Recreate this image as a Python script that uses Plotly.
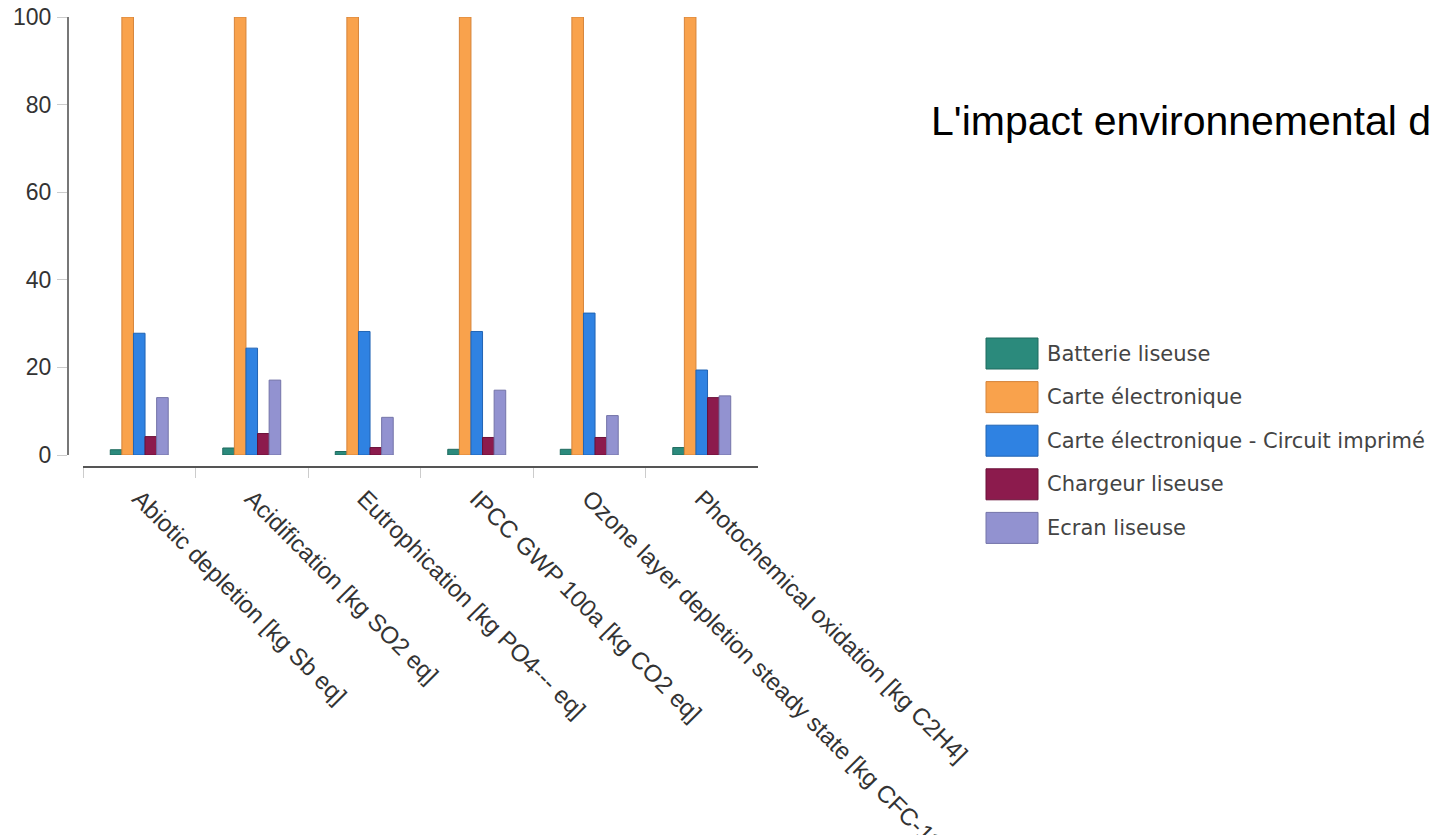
import plotly.graph_objects as go

# Impact categories (x axis) and the five components compared
categories = [
    "Abiotic depletion [kg Sb eq]",
    "Acidification [kg SO2 eq]",
    "Eutrophication [kg PO4--- eq]",
    "IPCC GWP 100a [kg CO2 eq]",
    "Ozone layer depletion steady state [kg CFC-11 eq]",
    "Photochemical oxidation [kg C2H4]",
]
series_names = [
    "Batterie liseuse",
    "Carte électronique",
    "Carte électronique - Circuit imprimé",
    "Chargeur liseuse",
    "Ecran liseuse",
]
batterie = [1.2, 1.6, 0.8, 1.3, 1.3, 1.7]
carte = [100, 100, 100, 100, 100, 100]
circuit = [27.8, 24.4, 28.2, 28.2, 32.4, 19.4]
chargeur = [4.2, 4.9, 1.7, 4.0, 4.0, 13.1]
ecran = [13.1, 17.1, 8.6, 14.8, 9.0, 13.5]
y_ticks = [0, 20, 40, 60, 80, 100]
title_text = "L'impact environnemental d"

series_values = [batterie, carte, circuit, chargeur, ecran]
fills = ["#2b8a7c", "#f9a24c", "#2f82e2", "#8c1b4d", "#9292d0"]
edges = ["#1f6a5e", "#d6843a", "#2064b4", "#6a1038", "#7474a8"]

W, H = 1433, 835


def px_x(p):
    return p / W


def px_y(p):
    return 1 - p / H


fig = go.Figure()
for name, vals, fc, ec in zip(series_names, series_values, fills, edges):
    fig.add_trace(go.Bar(
        x=categories, y=vals, name=name,
        marker=dict(color=fc, line=dict(color=ec, width=1)),
        showlegend=False,
    ))

# Legend drawn as swatches + labels on the right
legend_top = 338
legend_step = 43.6
sw_w, sw_h = 52, 31
for i, (name, fc, ec) in enumerate(zip(series_names, fills, edges)):
    top = legend_top + i * legend_step
    fig.add_shape(type="rect", xref="paper", yref="paper",
                  x0=px_x(986), x1=px_x(986 + sw_w),
                  y0=px_y(top + sw_h), y1=px_y(top),
                  fillcolor=fc, line=dict(color=ec, width=1))
    fig.add_annotation(xref="paper", yref="paper",
                       x=px_x(1045), y=px_y(top + sw_h / 2),
                       xanchor="left", yanchor="middle", showarrow=False,
                       text=name,
                       font=dict(family="DejaVu Sans", size=21, color="#444444"))

fig.add_annotation(xref="paper", yref="paper",
                   x=px_x(929), y=px_y(121), xanchor="left", yanchor="middle",
                   showarrow=False, text=title_text,
                   font=dict(family="Liberation Sans, Arial", size=41, color="#000000"))

fig.update_layout(
    width=W, height=H,
    margin=dict(l=0, r=0, t=0, b=0, pad=0, autoexpand=False),
    paper_bgcolor="white", plot_bgcolor="white",
    barmode="group", bargap=0.485, bargroupgap=0,
    xaxis=dict(
        domain=[px_x(83), px_x(758)],
        anchor="free", position=px_y(467),
        range=[-0.5, 5.5],
        automargin=False,
        showline=True, linecolor="#555555", linewidth=2,
        ticks="outside", tickson="boundaries", ticklen=10,
        tickcolor="#cccccc", tickwidth=1,
        tickangle=45,
        ticklabelstandoff=7,
        tickfont=dict(family="Liberation Sans, Arial", size=24, color="#333333"),
        showgrid=False, zeroline=False,
    ),
    yaxis=dict(
        domain=[px_y(455), px_y(17)],
        anchor="free", position=px_x(68),
        range=[0, 100],
        automargin=False,
        tickvals=y_ticks,
        showline=True, linecolor="#777777", linewidth=2,
        ticks="outside", ticklen=10, tickcolor="#cccccc", tickwidth=1,
        ticklabelstandoff=1,
        tickfont=dict(family="Liberation Sans", size=23, color="#333333"),
        showgrid=False, zeroline=False,
    ),
)

fig.write_html("out.html")
